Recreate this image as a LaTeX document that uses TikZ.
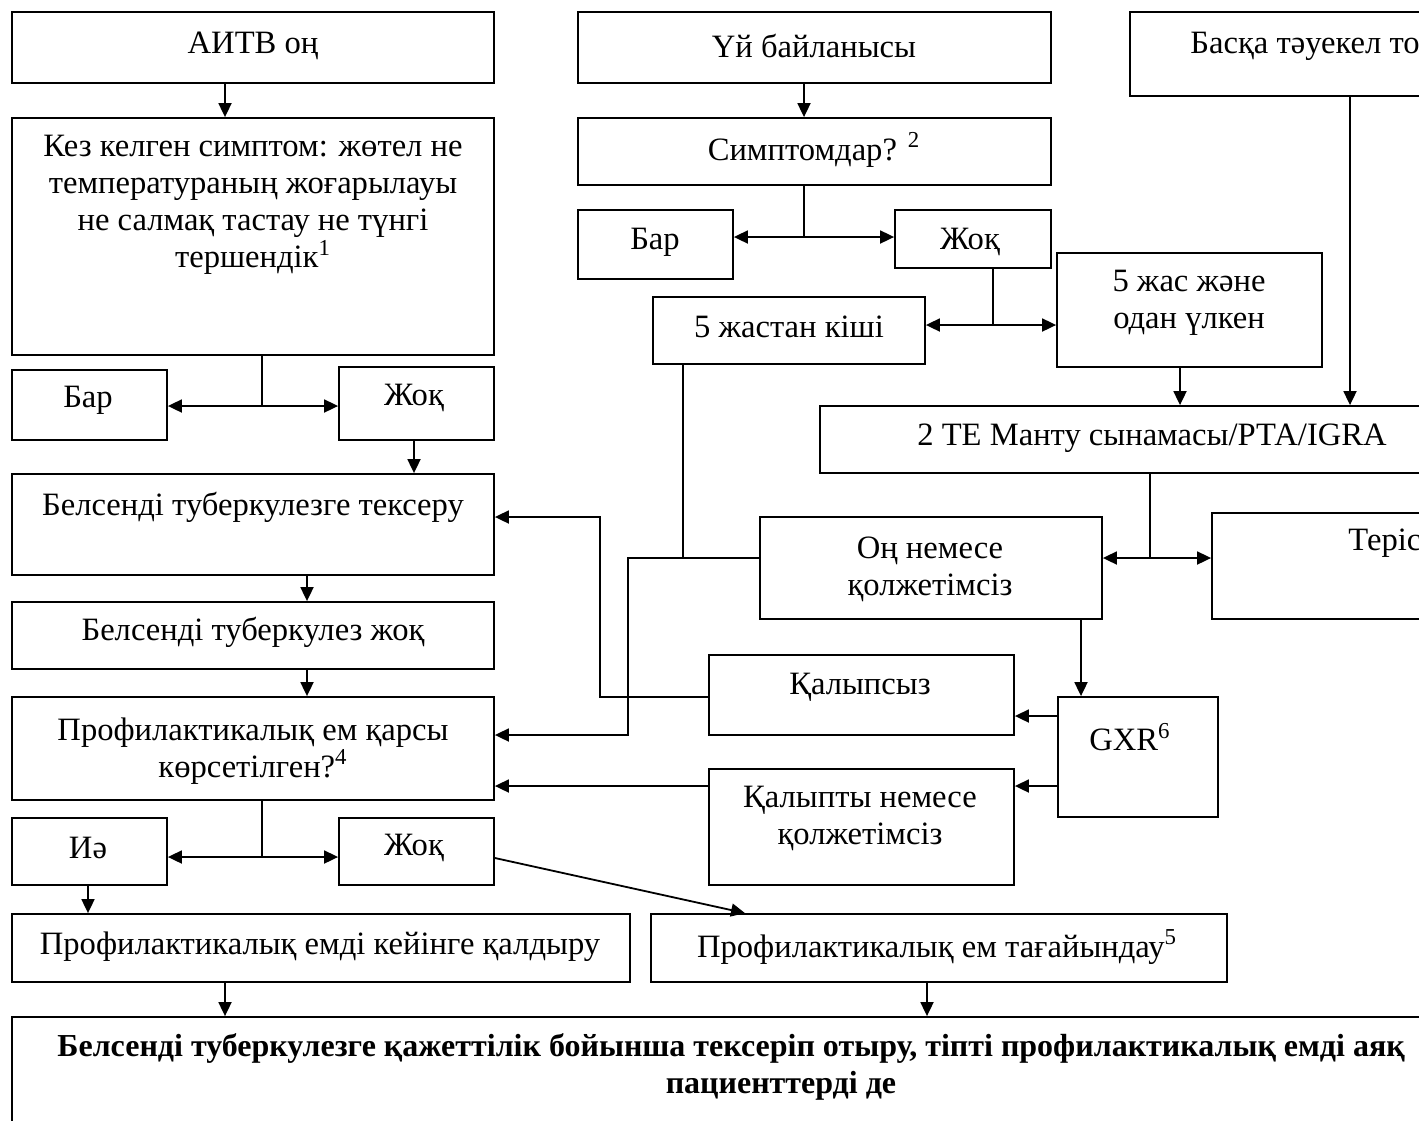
\documentclass[tikz,border=0pt]{standalone}
\usepackage{fontspec}
\setmainfont{Liberation Serif}
\usetikzlibrary{arrows.meta,fit}
\newcommand\fs{\fontsize{16.3}{18.5}\selectfont}
\newcommand\fsb{\fontsize{16}{18.5}\selectfont\bfseries}
\newcommand\bx[5]{\node[box, fit={(#2,#3) (#4,#5)}] (#1) {};}
\begin{document}
\begin{tikzpicture}[x=0.5pt,y=-0.5pt,
  box/.style={draw, line width=0.9pt, inner sep=0pt},
  ln/.style={line width=0.9pt},
  arr/.style={line width=0.9pt, -{Triangle[length=7pt,width=6.5pt]}},
  txt/.style={inner sep=0pt, align=center, font=\fs}]
\useasboundingbox (0,0) rectangle (1419,1120);
\fill[white] (0,0) rectangle (1419,1120);
\clip (0,0) rectangle (1419,1120);
% left column
\bx{aitv}{12}{12}{494}{83}
\bx{kes}{12}{118}{494}{355}
\bx{bar1}{12}{370}{167}{440}
\bx{zhok1}{339}{367}{494}{440}
\bx{tekseru}{12}{474}{494}{575}
\bx{joq}{12}{602}{494}{669}
\bx{prof}{12}{697}{494}{800}
\bx{ie}{12}{818}{167}{885}
\bx{zhok2}{339}{818}{494}{885}
\bx{keiin}{12}{914}{630}{982}
\bx{tagai}{651}{914}{1227}{982}
\bx{bottom}{12}{1017}{1550}{1140}
% middle column
\bx{uy}{578}{12}{1051}{83}
\bx{simp}{578}{118}{1051}{185}
\bx{bar2}{578}{210}{733}{279}
\bx{zhok3}{895}{210}{1051}{268}
\bx{kishi}{653}{297}{925}{364}
\bx{ulken}{1057}{253}{1322}{367}
\bx{baska}{1130}{12}{1500}{96}
\bx{mantu}{820}{406}{1500}{473}
\bx{on}{760}{517}{1102}{619}
\bx{teris}{1212}{513}{1500}{619}
\bx{kalypsyz}{709}{655}{1014}{735}
\bx{gxr}{1058}{697}{1218}{817}
\bx{kalypty}{709}{769}{1014}{885}
% texts
\node[txt] (t1) at (253,46) {АИТВ оң};
\node[txt] (t2) at (253,205) {Кез келген симптом: жөтел не\\температураның жоғарылауы\\не салмақ тастау не түнгі\\тершендік\textsuperscript{1}};
\node[txt] (t3) at (88,400) {Бар};
\node[txt] (t4) at (414,398) {Жоқ};
\node[txt] (t5) at (253,507) {Белсенді туберкулезге тексеру};
\node[txt] (t6) at (253,632) {Белсенді туберкулез жоқ};
\node[txt] (t7) at (253,751) {Профилактикалық ем қарсы\\көрсетілген?\textsuperscript{4}};
\node[txt] (t8) at (88,848) {Иә};
\node[txt] (t9) at (414,848) {Жоқ};
\node[txt] (t10) at (320,947) {Профилактикалық емді кейінге қалдыру};
\node[txt] (t11) at (937,947) {Профилактикалық ем тағайындау\textsuperscript{5}};
\node[txt, anchor=west, font=\fsb] (t12) at (57,1048) {Белсенді туберкулезге қажеттілік бойынша тексеріп отыру, тіпті профилактикалық емді аяқ};
\node[txt, font=\fsb] (t13) at (781,1086) {пациенттерді де};
\node[txt] (t14) at (814,46) {Үй байланысы};
\node[txt] (t15) at (814,150) {Симптомдар? \textsuperscript{2}};
\node[txt] (t16) at (655,242) {Бар};
\node[txt] (t17) at (970,242) {Жоқ};
\node[txt] (t18) at (789,327) {5 жастан кіші};
\node[txt] (t19) at (1189,303) {5 жас және\\одан үлкен};
\node[txt, anchor=west] (t20) at (1190,46) {Басқа тәуекел то};
\node[txt] (t21) at (1152,438) {2 ТЕ Манту сынамасы/РТА/IGRA};
\node[txt] (t22) at (930,569) {Оң немесе\\қолжетімсіз};
\node[txt, anchor=west] (t23) at (1348,543) {Теріс};
\node[txt] (t24) at (860,687) {Қалыпсыз};
\node[txt] (t25) at (1130,737) {GXR\textsuperscript{6}};
\node[txt] (t26) at (860,818) {Қалыпты немесе\\қолжетімсіз};
% junctions
\coordinate (j1) at (262,406);
\coordinate (j2) at (262,857);
\coordinate (j3) at (804,237);
\coordinate (j4) at (993,325);
\coordinate (j5) at (1150,558);
\coordinate (j6) at (683,558);
\coordinate (j7) at (628,558);
\coordinate (j8) at (628,735);
\coordinate (j9) at (600,697);
\coordinate (j10) at (600,517);
% connectors left
\draw[arr] (aitv.south -| 225,0) -- (kes.north -| 225,0);
\draw[ln] (kes.south -| j1) -- (j1);
\draw[arr] (j1) -- (bar1.east |- j1);
\draw[arr] (j1) -- (zhok1.west |- j1);
\draw[arr] (zhok1.south -| 414,0) -- (tekseru.north -| 414,0);
\draw[arr] (tekseru.south -| 307,0) -- (joq.north -| 307,0);
\draw[arr] (joq.south -| 307,0) -- (prof.north -| 307,0);
\draw[ln] (prof.south -| j2) -- (j2);
\draw[arr] (j2) -- (ie.east |- j2) ;
\draw[arr] (j2) -- (zhok2.west |- j2);
\draw[arr] (ie.south -| 88,0) -- (keiin.north -| 88,0);
\draw[arr] (zhok2.east |- 0,858) -- (tagai.north -| 745,0);
\draw[arr] (keiin.south -| 225,0) -- (bottom.north -| 225,0);
\draw[arr] (tagai.south -| 927,0) -- (bottom.north -| 927,0);
% connectors middle
\draw[arr] (uy.south -| j3) -- (simp.north -| j3);
\draw[ln] (simp.south -| j3) -- (j3);
\draw[arr] (j3) -- (bar2.east |- j3);
\draw[arr] (j3) -- (zhok3.west |- j3);
\draw[ln] (zhok3.south -| j4) -- (j4);
\draw[arr] (j4) -- (kishi.east |- j4);
\draw[arr] (j4) -- (ulken.west |- j4);
\draw[arr] (ulken.south -| 1180,0) -- (mantu.north -| 1180,0);
\draw[arr] (baska.south -| 1350,0) -- (mantu.north -| 1350,0);
\draw[ln] (mantu.south -| j5) -- (j5);
\draw[arr] (j5) -- (on.east |- j5);
\draw[arr] (j5) -- (teris.west |- j5);
\draw[ln] (kishi.south -| j6) -- (j6);
\draw[arr] (on.west |- j7) -- (j7) -- (j8) -- (prof.east |- j8);
\draw[arr] (kalypsyz.west |- j9) -- (j9) -- (j10) -- (tekseru.east |- j10);
\draw[arr] (on.south -| 1081,0) -- (gxr.north -| 1081,0);
\draw[arr] (gxr.west |- 0,716) -- (kalypsyz.east |- 0,716);
\draw[arr] (gxr.west |- 0,786) -- (kalypty.east |- 0,786);
\draw[arr] (kalypty.west |- 0,786) -- (prof.east |- 0,786);
\end{tikzpicture}
\end{document}
